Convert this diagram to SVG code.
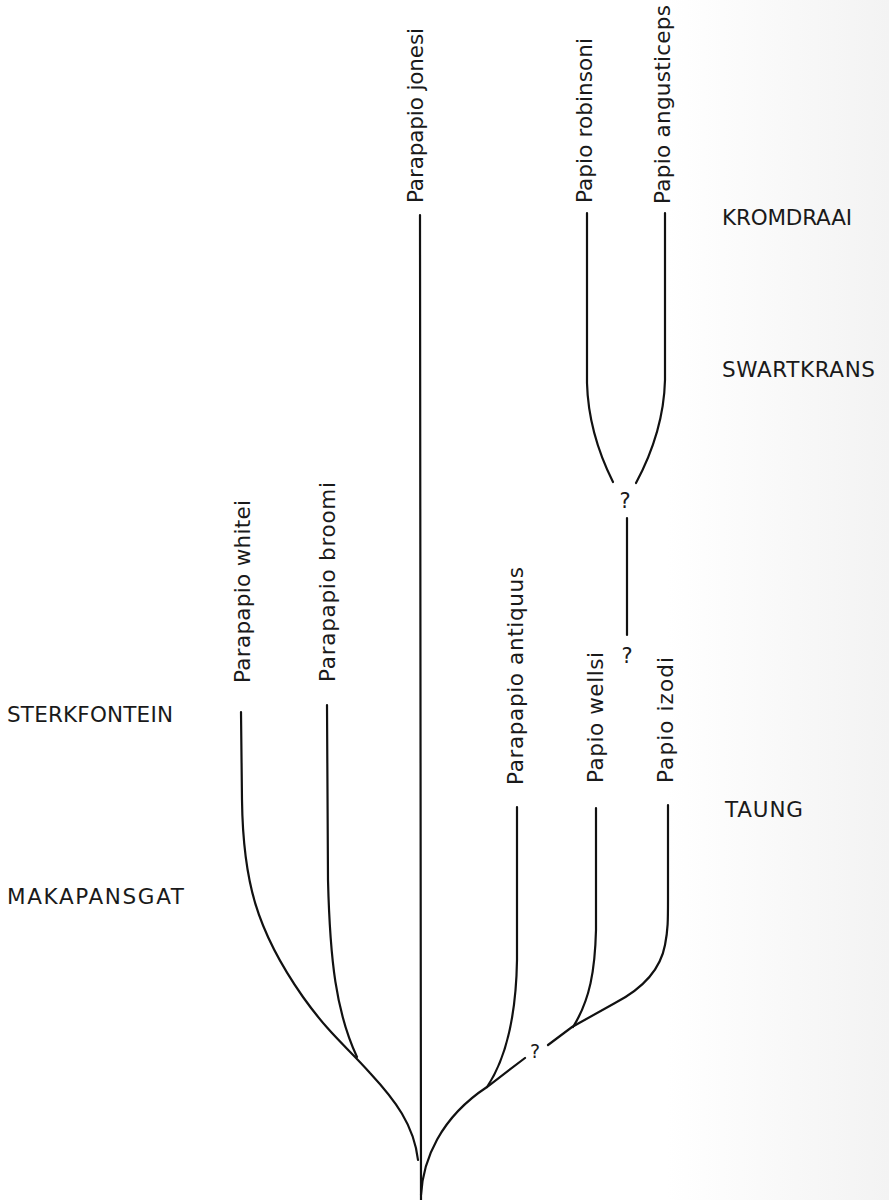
<svg xmlns="http://www.w3.org/2000/svg" width="889" height="1200" viewBox="0 0 889 1200">
<style>
.lbl{font-family:"DejaVu Sans","Liberation Sans",sans-serif;font-size:21.5px;fill:#1a1a1a}
.site{font-family:"DejaVu Sans","Liberation Sans",sans-serif;font-size:21.5px;fill:#1a1a1a}
.q{font-family:"DejaVu Sans","Liberation Sans",sans-serif;fill:#1a1a1a;text-anchor:middle}
.br{fill:none;stroke:#111;stroke-width:2.2;stroke-linecap:round}
</style>
<defs>
<linearGradient id="bg" x1="0" y1="0" x2="1" y2="0">
<stop offset="0" stop-color="#ffffff"/>
<stop offset="0.75" stop-color="#ffffff"/>
<stop offset="1" stop-color="#f3f3f3"/>
</linearGradient>
</defs>
<rect x="0" y="0" width="889" height="1200" fill="url(#bg)"/>

<g id="connectors">
<path class="br" d="M420,215 L421,1200"/>
<path class="br" d="M241,712 L242,800 C243,880 256,930 303,997 C330,1035 347,1047 370,1073 C395,1100 414,1125 418,1160"/>
<path class="br" d="M327,705 L328,880 C330,960 336,1012 357,1057"/>
<path class="br" d="M517,807 L517,960 C516,1020 505,1060 487,1087"/>
<path class="br" d="M421,1195 C423,1160 440,1118 487,1087 L525,1058"/>
<path class="br" d="M548,1045 L572,1027 L615,1003 C640,990 660,972 665,945 C668,930 668,920 668,900 L668,805"/>
<path class="br" d="M596,808 L596,930 C595,970 590,1000 573,1027"/>
<path class="br" d="M587,213 L587,383 C588,420 598,452 613,482"/>
<path class="br" d="M665,213 L665,380 C664,420 651,455 636,483"/>
<path class="br" d="M627,518 L627,635"/>
</g>

<g id="node-whitei"><text class="lbl" transform="translate(250,683) rotate(-90)" textLength="183" lengthAdjust="spacing">Parapapio whitei</text></g>
<g id="node-broomi"><text class="lbl" transform="translate(335,682) rotate(-90)" textLength="200" lengthAdjust="spacing">Parapapio broomi</text></g>
<g id="node-jonesi"><text class="lbl" transform="translate(423,203) rotate(-90)" textLength="175" lengthAdjust="spacing">Parapapio jonesi</text></g>
<g id="node-robinsoni"><text class="lbl" transform="translate(592,203) rotate(-90)" textLength="165" lengthAdjust="spacing">Papio robinsoni</text></g>
<g id="node-angusticeps"><text class="lbl" transform="translate(670,204) rotate(-90)" textLength="199" lengthAdjust="spacing">Papio angusticeps</text></g>
<g id="node-antiquus"><text class="lbl" transform="translate(523,785) rotate(-90)" textLength="218" lengthAdjust="spacing">Parapapio antiquus</text></g>
<g id="node-wellsi"><text class="lbl" transform="translate(603,783) rotate(-90)" textLength="131" lengthAdjust="spacing">Papio wellsi</text></g>
<g id="node-izodi"><text class="lbl" transform="translate(673,783) rotate(-90)" textLength="126" lengthAdjust="spacing">Papio izodi</text></g>

<g id="node-q1"><text class="q" x="625" y="508" font-size="21">?</text></g>
<g id="node-q2"><text class="q" x="627" y="663" font-size="21">?</text></g>
<g id="node-q3"><text class="q" x="535" y="1058" font-size="19">?</text></g>

<g id="site-kromdraai"><text class="site" x="722" y="225" textLength="130" lengthAdjust="spacing">KROMDRAAI</text></g>
<g id="site-swartkrans"><text class="site" x="722" y="377" textLength="153" lengthAdjust="spacing">SWARTKRANS</text></g>
<g id="site-sterkfontein"><text class="site" x="7" y="722" textLength="166" lengthAdjust="spacing">STERKFONTEIN</text></g>
<g id="site-taung"><text class="site" x="725" y="817" textLength="78" lengthAdjust="spacing">TAUNG</text></g>
<g id="site-makapansgat"><text class="site" x="7" y="904" textLength="177" lengthAdjust="spacing">MAKAPANSGAT</text></g>
</svg>
